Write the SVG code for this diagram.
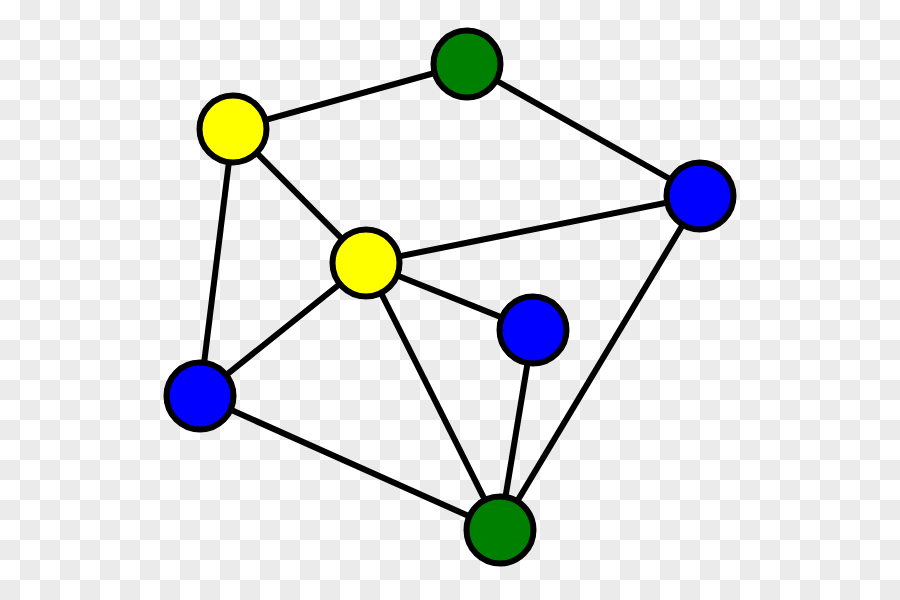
<svg xmlns="http://www.w3.org/2000/svg" width="900" height="600" viewBox="0 0 900 600">
  <defs>
    <pattern id="checker" x="0" y="0" width="40" height="40" patternUnits="userSpaceOnUse">
      <rect x="0" y="0" width="40" height="40" fill="#ffffff"/>
      <rect x="20" y="0" width="20" height="20" fill="#ebebeb"/>
      <rect x="0" y="20" width="20" height="20" fill="#ebebeb"/>
    </pattern>
  </defs>
  <style>
    .edge { stroke: #000; stroke-width: 6; fill: none; }
    .node { stroke: #000; stroke-width: 6; }
    .yellow { fill: #ffff00; }
    .green { fill: #008000; }
    .blue { fill: #0000ff; }
  </style>
  <rect x="0" y="0" width="900" height="600" fill="url(#checker)"/>
  <g id="connectors">
    <line class="edge" x1="233" y1="129" x2="467" y2="64"/>
    <line class="edge" x1="467" y1="64" x2="700" y2="196"/>
    <line class="edge" x1="233" y1="129" x2="366" y2="263"/>
    <line class="edge" x1="233" y1="129" x2="200" y2="396"/>
    <line class="edge" x1="366" y1="263" x2="700" y2="196"/>
    <line class="edge" x1="366" y1="263" x2="533" y2="330"/>
    <line class="edge" x1="366" y1="263" x2="200" y2="396"/>
    <line class="edge" x1="366" y1="263" x2="500" y2="530"/>
    <line class="edge" x1="533" y1="330" x2="500" y2="530"/>
    <line class="edge" x1="700" y1="196" x2="500" y2="530"/>
    <line class="edge" x1="200" y1="396" x2="500" y2="530"/>
  </g>
  <g id="node-green-top"><circle class="node green" cx="467" cy="64" r="33.5"/></g>
  <g id="node-yellow-left"><circle class="node yellow" cx="233" cy="129" r="33.5"/></g>
  <g id="node-blue-right"><circle class="node blue" cx="700" cy="196" r="33.5"/></g>
  <g id="node-yellow-center"><circle class="node yellow" cx="366" cy="263" r="33.5"/></g>
  <g id="node-blue-mid"><circle class="node blue" cx="533" cy="330" r="33.5"/></g>
  <g id="node-blue-left"><circle class="node blue" cx="200" cy="396" r="33.5"/></g>
  <g id="node-green-bottom"><circle class="node green" cx="500" cy="530" r="33.5"/></g>
</svg>
